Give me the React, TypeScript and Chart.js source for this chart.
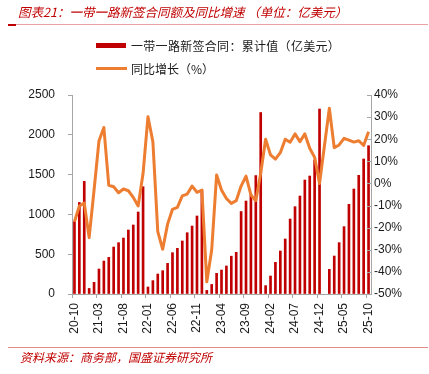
import React, { useEffect, useRef } from "react";
import { Chart, registerables } from "chart.js";

Chart.register(...registerables);

const categories: string[] = [
  "20-10", "20-11", "20-12",
  "21-01", "21-02", "21-03", "21-04", "21-05", "21-06", "21-07", "21-08", "21-09", "21-10", "21-11", "21-12",
  "22-01", "22-02", "22-03", "22-04", "22-05", "22-06", "22-07", "22-08", "22-09", "22-10", "22-11", "22-12",
  "23-01", "23-02", "23-03", "23-04", "23-05", "23-06", "23-07", "23-08", "23-09", "23-10", "23-11", "23-12",
  "24-01", "24-02", "24-03", "24-04", "24-05", "24-06", "24-07", "24-08", "24-09", "24-10", "24-11", "24-12",
  "25-01", "25-02", "25-03", "25-04", "25-05", "25-06", "25-07", "25-08", "25-09", "25-10",
];

// 一带一路新签合同：累计值（亿美元）
const contractCumulative: (number | null)[] = [
  910, 1150, 1415,
  70, 147, 314, 414, 460, 590, 645, 703, 804, 867, 1030, 1348,
  88, 168, 251, 293, 385, 519, 574, 666, 770, 854, 980, 1306,
  45, 120, 260, 301, 352, 475, 524, 1036, 1168, 1248, 1488, 2280,
  105, 226, 398, 540, 691, 942, 1097, 1231, 1432, 1482, 1683, 2324,
  null, 310, 477, 645, 846, 1127, 1319, 1491, 1696, 1863,
];

// 同比增长（%）
const yoyGrowth: (number | null)[] = [
  -17.3, -10.2, -8.9,
  -24.5, -3, 19.2, 25.3, -0.8, -1.5, -4.2, -2.5, -3.3, -6.3, -10.2, 4.6,
  30.2, 18.9, -21.8, -29.8, -18.4, -11.7, -10.8, -5.6, -4.8, -1.2, -4.0, -3.0,
  -44.5, -30.1, 3.8, -3.0, -6.8, -9.0, -7.8, -1.2, 3.3, -5.2, -7.8, 4.6,
  20.0, 12.9, 11.0, 13.9, 20.0, 18.6, 22.4, 18.9, 22.4, 15.9, 11.8, 0.0,
  null, 34.0, 16.2, 17.4, 20.4, 19.6, 18.7, 19.3, 17.2, 23.4,
];

const leftTicks = { min: 0, max: 2500, step: 500 };
const rightTicks = { min: -50, max: 40, step: 10 };

const TITLE = "图表21：一带一路新签合同额及同比增速 （单位：亿美元）";
const LEGEND_BAR = "一带一路新签合同：累计值（亿美元）";
const LEGEND_LINE = "同比增长（%）";
const SOURCE = "资料来源：商务部，国盛证券研究所";

const RED = "#C00000";
const ORANGE = "#ED7D31";
const AXIS = "#A6A6A6";
const FONT = "'Liberation Sans', Arial, sans-serif";
const CJK = "'Noto Sans CJK SC', sans-serif";

const inwardTicks = {
  id: "inwardTicks",
  afterDraw(chart: any) {
    const s = chart.scales.y1;
    const area = chart.chartArea;
    const ctx = chart.ctx;
    ctx.save();
    ctx.strokeStyle = AXIS;
    ctx.lineWidth = 1;
    s.ticks.forEach((t: any) => {
      const y = Math.round(s.getPixelForValue(t.value)) + 0.5;
      ctx.beginPath();
      ctx.moveTo(area.right - 4, y);
      ctx.lineTo(area.right, y);
      ctx.stroke();
    });
    ctx.restore();
  },
};

export default function App() {
  const ref = useRef<HTMLCanvasElement | null>(null);

  useEffect(() => {
    if (!ref.current) return;
    const chart = new Chart(ref.current, {
      type: "bar",
      data: {
        labels: categories,
        datasets: [
          {
            type: "line",
            label: LEGEND_LINE,
            data: yoyGrowth,
            yAxisID: "y1",
            borderColor: ORANGE,
            backgroundColor: ORANGE,
            borderWidth: 3,
            pointRadius: 0,
            tension: 0,
            spanGaps: true,
            borderJoinStyle: "round",
            order: 1,
          } as any,
          {
            type: "bar",
            label: LEGEND_BAR,
            data: contractCumulative,
            yAxisID: "y",
            backgroundColor: RED,
            barThickness: 2,
            order: 2,
          } as any,
        ],
      },
      options: {
        responsive: false,
        animation: false,
        devicePixelRatio: 1,
        layout: { padding: { top: 95, left: 0, right: 0, bottom: 0 } },
        plugins: {
          legend: { display: false },
          tooltip: { enabled: false },
        },
        scales: {
          x: {
            type: "category",
            offset: true,
            border: { color: AXIS, width: 1 },
            grid: {
              offset: true,
              drawOnChartArea: false,
              drawTicks: true,
              tickLength: 4,
              color: (c: any) => (c.index % 5 === 0 ? AXIS : "rgba(0,0,0,0)"),
            },
            ticks: {
              autoSkip: false,
              minRotation: 90,
              maxRotation: 90,
              padding: 5,
              color: "#1a1a1a",
              font: { family: FONT, size: 12 },
              callback: (_v: any, i: number) => (i % 5 === 0 ? categories[i] : ""),
            },
            afterFit: (s: any) => {
              s.height = 80;
            },
          },
          y: {
            position: "left",
            min: leftTicks.min,
            max: leftTicks.max,
            border: { color: AXIS, width: 1 },
            grid: { drawOnChartArea: false, tickLength: 4, color: AXIS },
            ticks: {
              stepSize: leftTicks.step,
              padding: 13,
              color: "#1a1a1a",
              font: { family: FONT, size: 12 },
              callback: (v: any) => String(v),
            },
            afterFit: (s: any) => {
              s.width = 72;
            },
          },
          y1: {
            position: "right",
            min: rightTicks.min,
            max: rightTicks.max,
            border: { color: AXIS, width: 1 },
            grid: { drawOnChartArea: false, drawTicks: false },
            ticks: {
              stepSize: rightTicks.step,
              padding: 3,
              color: "#1a1a1a",
              font: { family: FONT, size: 12 },
              callback: (v: any) => `${v}%`,
            },
            afterFit: (s: any) => {
              s.width = 58;
            },
          },
        },
      } as any,
      plugins: [inwardTicks],
    });
    return () => chart.destroy();
  }, []);

  return (
    <div
      style={{
        position: "fixed",
        left: 0,
        top: 0,
        width: 429,
        height: 374,
        background: "#fff",
        overflow: "hidden",
      }}
    >
      <canvas
        ref={ref}
        width={429}
        height={374}
        style={{ position: "absolute", left: 0, top: 0, width: 429, height: 374 }}
      />
      <div
        style={{
          position: "absolute",
          left: 18,
          top: 3,
          font: `italic 12.5px ${CJK}`,
          color: RED,
          whiteSpace: "pre",
          lineHeight: "18px",
        }}
      >
        {TITLE}
      </div>
      <div style={{ position: "absolute", left: 8, top: 24, width: 420, height: 1, background: "#E9A3A3" }} />
      <div style={{ position: "absolute", left: 8, top: 24, width: 8, height: 2, background: RED }} />

      <div style={{ position: "absolute", left: 96, top: 43, width: 30, height: 5, background: RED }} />
      <div
        style={{
          position: "absolute",
          left: 131,
          top: 37,
          font: `12px ${CJK}`,
          color: "#1a1a1a",
          whiteSpace: "pre",
          lineHeight: "18px",
          letterSpacing: "0.3px",
        }}
      >
        {LEGEND_BAR}
      </div>
      <div style={{ position: "absolute", left: 96, top: 67, width: 31, height: 3, background: ORANGE }} />
      <div
        style={{
          position: "absolute",
          left: 131,
          top: 60,
          font: `12px ${CJK}`,
          color: "#1a1a1a",
          whiteSpace: "pre",
          lineHeight: "18px",
        }}
      >
        {LEGEND_LINE}
      </div>

      <div style={{ position: "absolute", left: 8, top: 347, width: 420, height: 1, background: "#E08A8A" }} />
      <div
        style={{
          position: "absolute",
          left: 20,
          top: 348,
          font: `italic 12px ${CJK}`,
          color: RED,
          whiteSpace: "pre",
          lineHeight: "18px",
        }}
      >
        {SOURCE}
      </div>
    </div>
  );
}
